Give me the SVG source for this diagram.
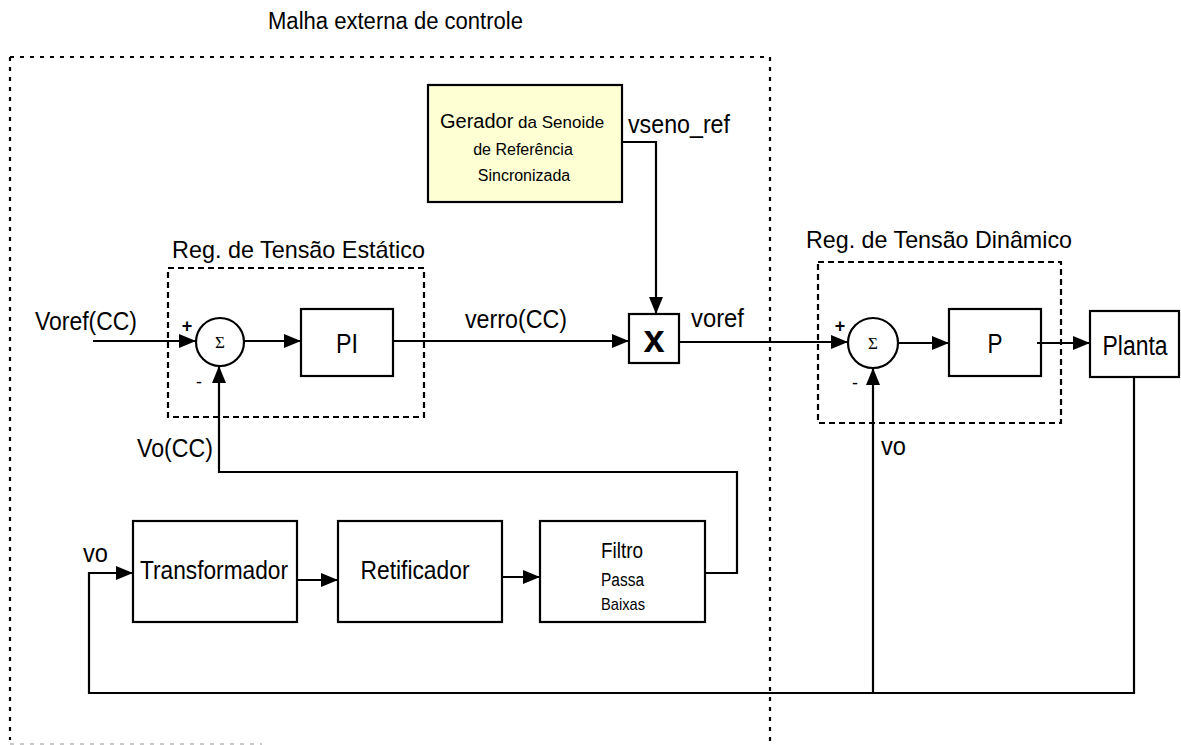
<svg xmlns="http://www.w3.org/2000/svg" width="1181" height="745" viewBox="0 0 1181 745">
<defs>
<marker id="arr" markerUnits="userSpaceOnUse" markerWidth="18" markerHeight="14" refX="17" refY="7" orient="auto">
<path d="M0,0 L17,7 L0,14 z" fill="#000"/>
</marker>
<style>
.t{font-family:"Liberation Sans",Arial,sans-serif;fill:#000}
.box{fill:#fff;stroke:#000;stroke-width:2.2}
.ln{fill:none;stroke:#000;stroke-width:2.2}
.ar{fill:none;stroke:#000;stroke-width:2.2;marker-end:url(#arr)}
.outer{fill:none;stroke:#000;stroke-width:2.2;stroke-dasharray:4 6}
.inner{fill:none;stroke:#000;stroke-width:2.2;stroke-dasharray:6 4}
.sig{font-family:"Liberation Serif","Times New Roman",serif;font-size:17px}
</style>
</defs>
<rect width="1181" height="745" fill="#fff"/>

<g id="outer-loop">
<path class="outer" d="M10,57 H770 M10,57 V740 M770,57 V745"/>
<path d="M10,744 H262" fill="none" stroke="#c8c8c8" stroke-width="2" stroke-dasharray="4 6"/>
<text class="t" x="268" y="29" font-size="23" textLength="255" lengthAdjust="spacingAndGlyphs">Malha externa de controle</text>
</g>

<g id="static-regulator">
<rect class="inner" x="168" y="268" width="256" height="149"/>
<text class="t" x="172" y="258" font-size="24" textLength="253" lengthAdjust="spacingAndGlyphs">Reg. de Tensão Estático</text>
</g>

<g id="dynamic-regulator">
<rect class="inner" x="818" y="262" width="243" height="161"/>
<text class="t" x="806" y="248" font-size="24" textLength="266" lengthAdjust="spacingAndGlyphs">Reg. de Tensão Dinâmico</text>
</g>

<g id="gerador">
<rect x="428" y="85" width="194" height="117" fill="#FFFFD4" stroke="#000" stroke-width="2.2"/>
<text class="t" x="440" y="128" font-size="20">Gerador<tspan font-size="17"> da Senoide</tspan></text>
<text class="t" x="523" y="155" font-size="16" text-anchor="middle">de Referência</text>
<text class="t" x="524" y="181" font-size="16" text-anchor="middle">Sincronizada</text>
</g>

<g id="sum1">
<circle class="box" cx="220" cy="342" r="24"/>
<text class="sig" x="220" y="348" text-anchor="middle">Σ</text>
<text class="t" x="187" y="332" font-size="18" text-anchor="middle" font-weight="bold">+</text>
<text class="t" x="199" y="388" font-size="18" text-anchor="middle">-</text>
</g>

<g id="pi">
<rect class="box" x="301" y="309" width="92" height="67"/>
<text class="t" x="347" y="353" font-size="28" text-anchor="middle" textLength="22" lengthAdjust="spacingAndGlyphs">PI</text>
</g>

<g id="mult">
<rect class="box" x="629" y="314" width="50" height="49"/>
<text class="t" x="654" y="352" font-size="38" font-weight="bold" text-anchor="middle">x</text>
</g>

<g id="sum2">
<circle class="box" cx="873" cy="343" r="25"/>
<text class="sig" x="873" y="349" text-anchor="middle">Σ</text>
<text class="t" x="840" y="332" font-size="18" text-anchor="middle" font-weight="bold">+</text>
<text class="t" x="855" y="389" font-size="18" text-anchor="middle">-</text>
</g>

<g id="p">
<rect class="box" x="949" y="309" width="92" height="67"/>
<text class="t" x="995" y="353" font-size="28" text-anchor="middle" textLength="15" lengthAdjust="spacingAndGlyphs">P</text>
</g>

<g id="planta">
<rect class="box" x="1090" y="311" width="89" height="66"/>
<text class="t" x="1135" y="355" font-size="27" text-anchor="middle" textLength="65" lengthAdjust="spacingAndGlyphs">Planta</text>
</g>

<g id="transformador">
<rect class="box" x="133" y="521" width="164" height="101"/>
<text class="t" x="214" y="579" font-size="26" text-anchor="middle" textLength="148" lengthAdjust="spacingAndGlyphs">Transformador</text>
</g>

<g id="retificador">
<rect class="box" x="338" y="521" width="164" height="101"/>
<text class="t" x="415" y="579" font-size="26" text-anchor="middle" textLength="109" lengthAdjust="spacingAndGlyphs">Retificador</text>
</g>

<g id="filtro">
<rect class="box" x="540" y="521" width="165" height="101"/>
<text class="t" x="601" y="558" font-size="22" textLength="42" lengthAdjust="spacingAndGlyphs">Filtro</text>
<text class="t" x="601" y="586" font-size="18" textLength="43" lengthAdjust="spacingAndGlyphs">Passa</text>
<text class="t" x="601" y="610" font-size="17" textLength="44" lengthAdjust="spacingAndGlyphs">Baixas</text>
</g>

<g id="connectors">
<path class="ar" d="M93,341 H196"/>
<path class="ar" d="M244,341 H301"/>
<path class="ar" d="M393,341 H629"/>
<path class="ar" d="M622,142 H656 V314"/>
<path class="ar" d="M679,342 H848"/>
<path class="ar" d="M898,343 H949"/>
<path class="ar" d="M1037,343 H1090"/>
<path class="ar" d="M1134,377 V693 H89 V573 H133"/>
<path class="ar" d="M873,693 V368"/>
<path class="ar" d="M705,573 H737 V472 H219 V366"/>
<path class="ar" d="M297,580 H338"/>
<path class="ar" d="M502,577 H540"/>
</g>

<g id="labels">
<text class="t" x="628" y="133" font-size="25" textLength="102" lengthAdjust="spacingAndGlyphs">vseno_ref</text>
<text class="t" x="35" y="330" font-size="25" textLength="102" lengthAdjust="spacingAndGlyphs">Voref(CC)</text>
<text class="t" x="465" y="328" font-size="25" textLength="102" lengthAdjust="spacingAndGlyphs">verro(CC)</text>
<text class="t" x="691" y="327" font-size="25" textLength="53" lengthAdjust="spacingAndGlyphs">voref</text>
<text class="t" x="137" y="457" font-size="25" textLength="76" lengthAdjust="spacingAndGlyphs">Vo(CC)</text>
<text class="t" x="881" y="455" font-size="25" textLength="25" lengthAdjust="spacingAndGlyphs">vo</text>
<text class="t" x="83" y="562" font-size="25" textLength="25" lengthAdjust="spacingAndGlyphs">vo</text>
</g>
</svg>
